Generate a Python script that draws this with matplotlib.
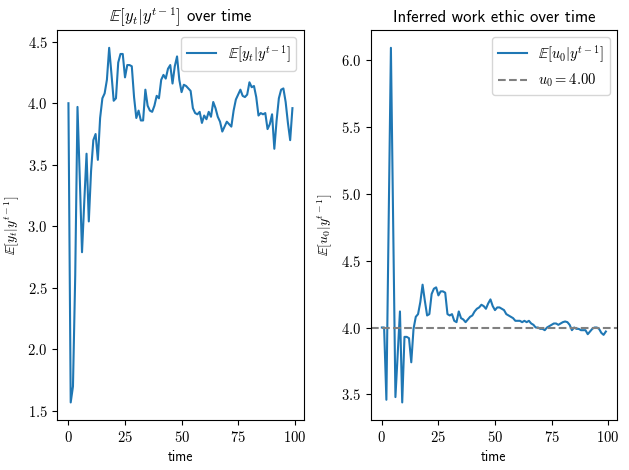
import numpy as np
import matplotlib
matplotlib.use("Agg")
from matplotlib import pyplot as plt
from matplotlib.ticker import FuncFormatter

plt.rcParams["mathtext.fontset"] = "cm"
plt.rcParams["font.family"] = ["cmss10", "DejaVu Sans"]
plt.rcParams["axes.unicode_minus"] = False

# E[y_t | y^{t-1}], t = 0..99
y_pred = [
    4.00, 1.57, 1.70, 2.60, 3.97, 3.40, 2.79, 3.20, 3.59, 3.04,
    3.45, 3.70, 3.75, 3.54, 3.88, 4.04, 4.08, 4.19, 4.45, 4.24,
    4.02, 4.04, 4.33, 4.40, 4.40, 4.21, 4.31, 4.31, 4.30, 4.05,
    3.88, 3.94, 3.86, 3.86, 4.11, 3.98, 3.94, 3.93, 3.98, 4.06,
    4.04, 4.19, 4.23, 4.20, 4.28, 4.31, 4.16, 4.30, 4.38, 4.19,
    4.09, 4.15, 4.14, 4.12, 4.10, 3.96, 3.92, 3.91, 3.93, 3.84,
    3.90, 3.87, 3.93, 3.89, 4.01, 3.96, 3.89, 3.85, 3.77, 3.81,
    3.85, 3.83, 3.81, 3.94, 4.03, 4.07, 4.11, 4.06, 4.05, 4.07,
    4.17, 4.13, 4.14, 4.05, 3.90, 3.92, 3.91, 3.92, 3.79, 3.83,
    3.91, 3.63, 3.86, 4.04, 4.11, 4.12, 4.01, 3.84, 3.70, 3.96,
]

# E[u_0 | y^{t-1}], t = 0..99
u_post = [
    4.00, 4.00, 3.46, 4.78, 6.09, 4.78, 3.48, 3.80, 4.12, 3.44,
    3.93, 3.93, 3.92, 3.74, 3.99, 4.08, 4.10, 4.19, 4.32, 4.20,
    4.09, 4.10, 4.25, 4.29, 4.30, 4.24, 4.27, 4.27, 4.26, 4.10,
    4.09, 4.10, 4.05, 4.04, 4.12, 4.07, 4.06, 4.04, 4.06, 4.08,
    4.09, 4.12, 4.14, 4.15, 4.17, 4.16, 4.14, 4.18, 4.21, 4.16,
    4.13, 4.15, 4.15, 4.14, 4.13, 4.10, 4.09, 4.08, 4.07, 4.05,
    4.05, 4.05, 4.04, 4.05, 4.04, 4.05, 4.03, 4.02, 4.00, 4.00,
    3.99, 3.99, 3.98, 4.00, 4.01, 4.02, 4.03, 4.03, 4.02, 4.03,
    4.04, 4.045, 4.04, 4.02, 3.98, 4.00, 3.99, 3.99, 3.98, 3.98,
    3.98, 3.95, 3.97, 3.99, 4.00, 4.00, 3.99, 3.96, 3.945, 3.97,
]
u_true = 4.00
time = np.arange(len(y_pred))


def math_ticks(fmt):
    return FuncFormatter(lambda v, pos: "$" + format(v, fmt) + "$")


fig, (ax1, ax2) = plt.subplots(1, 2, figsize=(6.29, 4.70), dpi=100)

ax1.plot(time, y_pred, label=r"$\mathbb{E}[y_t|y^{t-1}]$")
ax1.set_title(r"$\mathbb{E}[y_t|y^{t-1}]$ over time")
ax1.set_xlabel("time")
ax1.set_ylabel(r"$\mathbb{E}[y_t|y^{t-1}]$")
ax1.set_xticks([0, 25, 50, 75, 100])
ax1.xaxis.set_major_formatter(math_ticks("g"))
ax1.yaxis.set_major_formatter(math_ticks(".1f"))
ax1.tick_params(labelsize=10.5)
ax1.legend(fontsize=10.5)

ax2.plot(time, u_post, label=r"$\mathbb{E}[u_0|y^{t-1}]$")
ax2.axhline(u_true, color="gray", linestyle="--", label=r"$u_0 = %.2f$" % u_true)
ax2.set_title("Inferred work ethic over time")
ax2.set_xlabel("time")
ax2.set_ylabel(r"$\mathbb{E}[u_0|y^{t-1}]$")
ax2.set_xticks([0, 25, 50, 75, 100])
ax2.xaxis.set_major_formatter(math_ticks("g"))
ax2.yaxis.set_major_formatter(math_ticks(".1f"))
ax2.tick_params(labelsize=10.5)
ax2.legend(fontsize=10.5)

fig.subplots_adjust(left=0.091, right=0.981, bottom=0.106, top=0.936, wspace=0.272)
plt.savefig("out.png")
